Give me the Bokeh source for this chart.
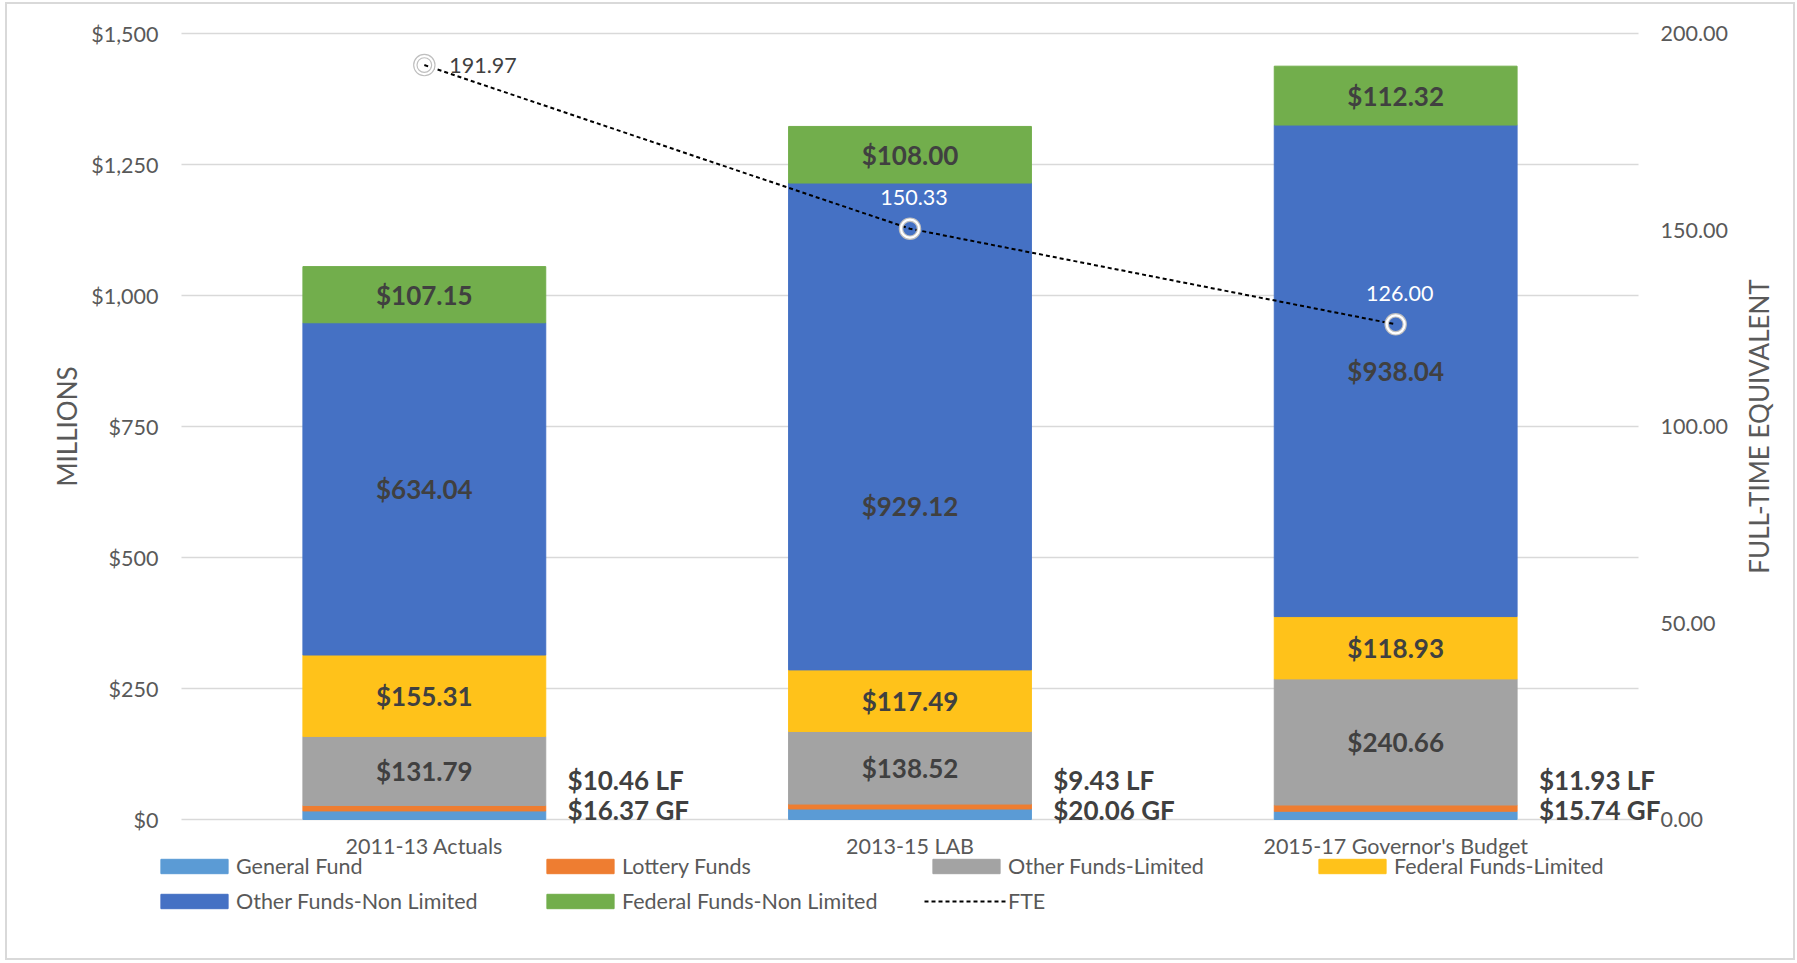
import math
from bokeh.plotting import figure
from bokeh.models import (ColumnDataSource, Range1d, LinearAxis,
                          NumeralTickFormatter, Legend, LegendItem, FixedTicker)
from bokeh.core.properties import value
from bokeh.embed import file_html
from bokeh.resources import INLINE

# ---------------- data ----------------
categories = ["2011-13 Actuals", "2013-15 LAB", "2015-17 Governor's Budget"]
general_fund = [16.37, 20.06, 15.74]
lottery_funds = [10.46, 9.43, 11.93]
other_funds_limited = [131.79, 138.52, 240.66]
federal_funds_limited = [155.31, 117.49, 118.93]
other_funds_non_limited = [634.04, 929.12, 938.04]
federal_funds_non_limited = [107.15, 108.00, 112.32]
fte = [191.97, 150.33, 126.00]
left_ticks = [0, 250, 500, 750, 1000, 1250, 1500]
right_ticks = [0, 50, 100, 150, 200]
series_names = ["General Fund", "Lottery Funds", "Other Funds-Limited",
                "Federal Funds-Limited", "Other Funds-Non Limited",
                "Federal Funds-Non Limited"]

# ---------------- style ----------------
keys = ["gf", "lf", "ofl", "ffl", "ofnl", "ffnl"]
colors = ["#5B9BD5", "#EE7D31", "#A3A3A3", "#FFC21A", "#4571C4", "#72AE4C"]
FONT = "Lato"
TXT = "#595959"
LBL = "#404040"
GRID = "#d9d9d9"

series = [general_fund, lottery_funds, other_funds_limited,
          federal_funds_limited, other_funds_non_limited, federal_funds_non_limited]
n = len(categories)
xpos = [i + 0.5 for i in range(n)]
YMAX, FMAX = left_ticks[-1], right_ticks[-1]

# ---------------- geometry (page pixels) ----------------
CAN_L, CAN_T, CAN_W, CAN_H = 7, 4, 1786, 954          # canvas box on the page
CAN_R, CAN_B = CAN_L + CAN_W, CAN_T + CAN_H
PX_L, PX_R, PX_T, PX_B = 181, 1638, 33, 819           # plot area (x 0..n, y 0..max)
kx = (PX_R - PX_L) / n
ky = (PX_B - PX_T) / YMAX
kf = (PX_B - PX_T) / FMAX

def dx(px):
    return (px - PX_L) / kx

x_range = Range1d(dx(CAN_L), dx(CAN_R))
y_range = Range1d(-(CAN_B - PX_B) / ky, YMAX + (PX_T - CAN_T) / ky)
f_range = Range1d(-(CAN_B - PX_B) / kf, FMAX + (PX_T - CAN_T) / kf)

p = figure(x_range=x_range, y_range=y_range, width=CAN_W, height=CAN_H,
           output_backend="svg", toolbar_location=None,
           min_border=0, min_border_left=0, min_border_right=0,
           min_border_top=0, min_border_bottom=0,
           margin=(CAN_T, 4, 5, CAN_L))
p.styles = {"outline": "2px solid #d9d9d9"}
p.outline_line_color = None
p.background_fill_color = "white"
p.border_fill_color = "white"
p.xgrid.grid_line_color = None
p.ygrid.grid_line_color = None

# ---------------- axes (fixed inside the canvas) ----------------
lax = p.yaxis[0]
lax.fixed_location = 0
lax.ticker = FixedTicker(ticks=left_ticks)
lax.formatter = NumeralTickFormatter(format="$0,0")
lax.major_label_standoff = 23

p.extra_y_ranges = {"fte": f_range}
rax = LinearAxis(y_range_name="fte", ticker=FixedTicker(ticks=right_ticks),
                 formatter=NumeralTickFormatter(format="0.00"))
rax.fixed_location = n
rax.major_label_standoff = 22
p.add_layout(rax, "right")

xax = p.xaxis[0]
xax.fixed_location = 0
xax.ticker = FixedTicker(ticks=xpos)
xax.major_label_overrides = {x: c for x, c in zip(xpos, categories)}
xax.major_label_standoff = 13

for ax in (lax, rax, xax):
    ax.axis_line_color = None
    ax.major_tick_line_color = None
    ax.minor_tick_line_color = None
    ax.major_tick_out = 0
    ax.major_tick_in = 0
    ax.major_label_text_font = FONT
    ax.major_label_text_font_size = "21.5px"
    ax.major_label_text_color = TXT

# axis titles (read bottom-to-top), one glyph each
p.text(x=[dx(66)], y=[YMAX / 2], text=["MILLIONS"],
       angle=math.pi / 2, text_align="center", text_baseline="middle",
       text_font=value(FONT), text_font_size="26px", text_color=TXT)
p.text(x=[dx(1758)], y=[YMAX / 2], text=["FULL-TIME EQUIVALENT"],
       angle=math.pi / 2, text_align="center", text_baseline="middle",
       text_font=value(FONT), text_font_size="26px", text_color=TXT)

# horizontal gridlines over the plot span
p.segment(x0=[0] * len(left_ticks), x1=[n] * len(left_ticks), y0=left_ticks, y1=left_ticks,
          line_color=GRID, line_width=1.5, level="underlay")

# ---------------- bars ----------------
data = {"x": xpos}
for k, s in zip(keys, series):
    data[k] = s
src = ColumnDataSource(data)
bar_rs = p.vbar_stack(keys, x="x", width=0.5, color=colors, source=src)

# segment labels (in-bar, for the four large segments)
label_frac = {(1, "ofnl"): 0.337}
lx, ly, lt = [], [], []
for i in range(n):
    base = 0.0
    for k, s in zip(keys, series):
        v = s[i]
        if k not in ("gf", "lf"):
            f = label_frac.get((i, k), 0.5)
            lx.append(xpos[i])
            ly.append(base + v * f)
            lt.append(f"${v:.2f}")
        base += v
p.text(x="x", y="y", text="t", source=ColumnDataSource(dict(x=lx, y=ly, t=lt)),
       text_align="center", text_baseline="middle", text_font=value(FONT),
       text_font_style="bold", text_font_size="26px", text_color=LBL)

# GF / LF labels to the right of each bar
sep = ["  ", " ", " "]
side_src = ColumnDataSource(dict(
    x=[x + 0.295 for x in xpos],
    lf_y=[75.0] * n,
    gf_y=[19.0] * n,
    lf_t=[f"${v:.2f}{s}LF" for v, s in zip(lottery_funds, sep)],
    gf_t=[f"${v:.2f}{s}GF" for v, s in zip(general_fund, sep)],
))
for yk, tk in (("lf_y", "lf_t"), ("gf_y", "gf_t")):
    p.text(x="x", y=yk, text=tk, source=side_src,
           text_align="left", text_baseline="middle", text_font=value(FONT),
           text_font_style="bold", text_font_size="26px", text_color=LBL)

# ---------------- FTE line ----------------
fsrc = ColumnDataSource(dict(x=xpos, fte=fte))
line_r = p.line("x", "fte", source=fsrc, y_range_name="fte", line_color="black",
                line_width=2, line_dash="4 3")
p.scatter("x", "fte", source=fsrc, y_range_name="fte", marker="circle", size=18,
          fill_color=None, line_color="#bfbfbf", line_width=4.5)
p.scatter("x", "fte", source=fsrc, y_range_name="fte", marker="circle", size=18,
          fill_color=None, line_color="white", line_width=2.2)

first = ColumnDataSource(dict(x=xpos[:1], fte=fte[:1], t=[f"{v:.2f}" for v in fte[:1]]))
rest = ColumnDataSource(dict(x=xpos[1:], fte=fte[1:], t=[f"{v:.2f}" for v in fte[1:]]))
p.text(x="x", y="fte", text="t", source=first, y_range_name="fte", x_offset=25,
       text_align="left", text_baseline="middle", text_font=value(FONT),
       text_font_size="21.5px", text_color=LBL)
p.text(x="x", y="fte", text="t", source=rest, y_range_name="fte", y_offset=-31,
       x_offset=4, text_align="center", text_baseline="middle", text_font=value(FONT),
       text_font_size="21.5px", text_color="white")

# ---------------- legend (4 columns x 2 rows) ----------------
items = [LegendItem(label=nm, renderers=[r]) for nm, r in zip(series_names, bar_rs)]
items.append(LegendItem(label="FTE", renderers=[line_r]))
LEG_LEFT, LEG_BOTTOM = 152, 914
lg = Legend(items=items, location=(LEG_LEFT - CAN_L, CAN_B - LEG_BOTTOM),
            orientation="horizontal", ncols=4,
            glyph_width=84, glyph_height=18, label_standoff=0,
            label_height=26, label_width=293, spacing=9, padding=0, margin=0,
            label_text_font=FONT, label_text_font_size="21.5px",
            label_text_color=TXT, border_line_color=None,
            background_fill_alpha=0)
p.add_layout(lg, "center")

open("out.html", "w").write(file_html(p, INLINE))
